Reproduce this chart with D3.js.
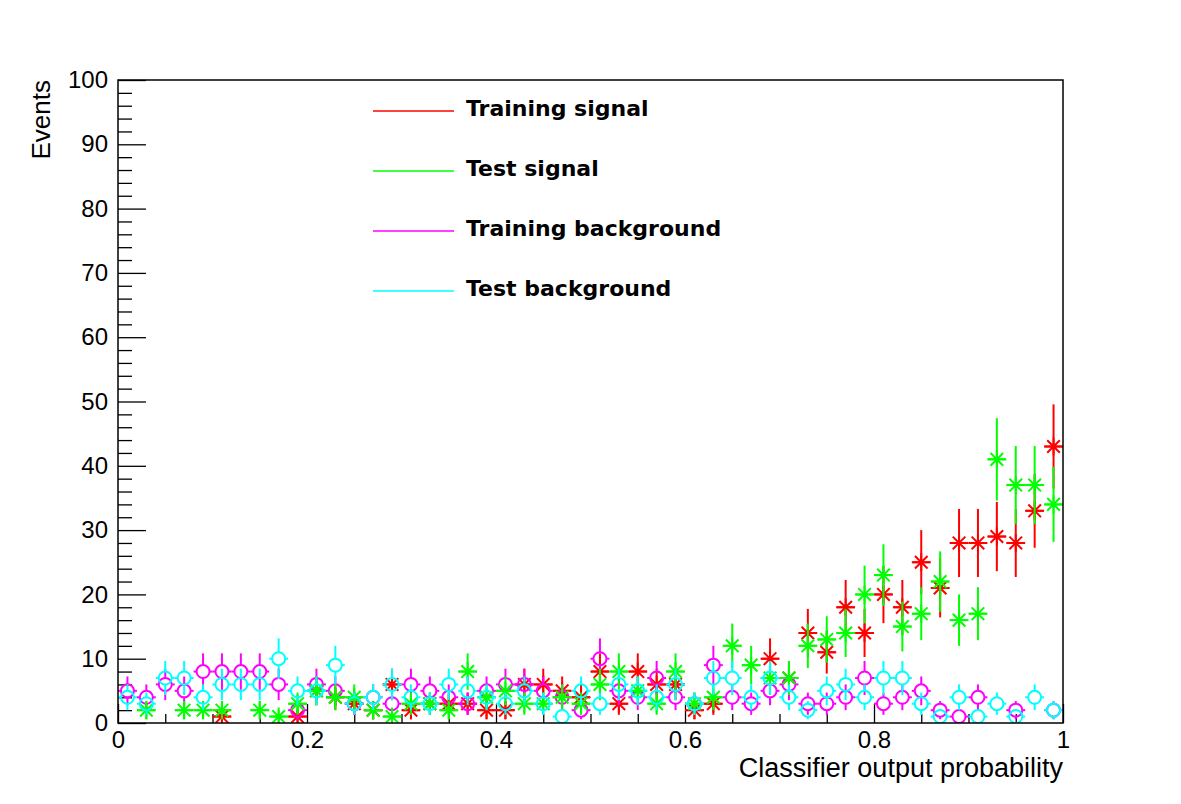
<!DOCTYPE html>
<html>
<head>
<meta charset="utf-8">
<script src="https://cdn.jsdelivr.net/npm/d3@7"></script>
<style>
  html, body { margin: 0; padding: 0; background: #fff; }
  svg { display: block; }
</style>
</head>
<body>
<svg id="chart" width="1181" height="804"></svg>
<script>
// ---- Data ----
const binCenters = [0.01,0.03,0.05,0.07,0.09,0.11,0.13,0.15,0.17,0.19,
                    0.21,0.23,0.25,0.27,0.29,0.31,0.33,0.35,0.37,0.39,
                    0.41,0.43,0.45,0.47,0.49,0.51,0.53,0.55,0.57,0.59,
                    0.61,0.63,0.65,0.67,0.69,0.71,0.73,0.75,0.77,0.79,
                    0.81,0.83,0.85,0.87,0.89,0.91,0.93,0.95,0.97,0.99];
const binWidth = 0.02;

const trainingSignal = [0,0,0,0,0,1,0,0,0,1, 5,4,3,2,6,2,3,3,3,2, 2,6,6,5,4,8,3,8,6,6,
                        2,3,0,0,10,7,14,11,18,14, 20,18,25,21,28,28,29,28,33,43];
const testSignal     = [0,2,0,2,2,2,0,2,1,3, 5,4,4,2,1,3,3,2,8,4, 5,3,3,4,3,6,8,5,3,8,
                        3,4,12,9,7,7,12,13,14,20, 23,15,17,22,16,17,41,37,37,34];
const trainingBkg    = [5,4,6,5,8,8,8,8,6,2, 6,5,3,4,3,6,5,4,3,5, 6,6,5,4,2,10,5,4,7,4,
                        3,9,4,3,5,6,3,3,4,7, 3,4,5,2,1,4,0,2,0,2];
const testBkg        = [4,3,7,7,4,6,6,6,10,5, 5,9,3,4,6,4,3,6,5,4, 3,5,3,1,5,3,6,5,4,6,
                        3,7,7,4,7,4,2,5,6,4, 7,7,3,1,4,1,3,1,4,2];

const xTicks = [0, 0.2, 0.4, 0.6, 0.8, 1];
const xMinorTicks = [0.05,0.1,0.15,0.25,0.3,0.35,0.45,0.5,0.55,0.65,0.7,0.75,0.85,0.9,0.95];
const yTicks = [0,10,20,30,40,50,60,70,80,90,100];
const yMinorTicks = [2,4,6,8,12,14,16,18,22,24,26,28,32,34,36,38,42,44,46,48,52,54,56,58,
                     62,64,66,68,72,74,76,78,82,84,86,88,92,94,96,98];

const seriesNames = ["Training signal", "Test signal", "Training background", "Test background"];
const seriesColors = ["#ff0000", "#00ff00", "#ff00ff", "#00ffff"];
const seriesMarkers = ["star", "star", "circle", "circle"];
const seriesValues = [trainingSignal, testSignal, trainingBkg, testBkg];

// ---- Layout ----
const svg = d3.select("#chart");
const pL = 118, pR = 1063, pT = 80, pB = 723;
const x = d3.scaleLinear().domain([0, 1]).range([pL, pR]);
const y = d3.scaleLinear().domain([0, 100]).range([pB, pT]);

const axisFont = "'Liberation Sans', Arial, Helvetica, sans-serif";

svg.append("defs").append("clipPath").attr("id", "clip")
  .append("rect").attr("x", pL).attr("y", pT).attr("width", pR - pL).attr("height", pB - pT);

// ---- Axes ----
const gY = svg.append("g").attr("transform", `translate(${pL},0)`)
  .call(d3.axisLeft(y).tickValues(yTicks).tickSize(-28).tickPadding(10).tickFormat(d3.format("d")));
const gYm = svg.append("g").attr("transform", `translate(${pL},0)`)
  .call(d3.axisLeft(y).tickValues(yMinorTicks).tickSize(-14).tickFormat(""));
const gX = svg.append("g").attr("transform", `translate(0,${pB})`)
  .call(d3.axisBottom(x).tickValues(xTicks).tickSize(-19).tickPadding(8).tickFormat(d3.format("~g")));
const gXm = svg.append("g").attr("transform", `translate(0,${pB})`)
  .call(d3.axisBottom(x).tickValues(xMinorTicks).tickSize(-9).tickFormat(""));

[gY, gYm, gX, gXm].forEach(g => {
  g.select(".domain").remove();
  g.selectAll(".tick line").attr("stroke", "#000").attr("stroke-width", 1.3);
  g.selectAll(".tick text").attr("font-family", axisFont).attr("font-size", 24).attr("fill", "#000");
});

// ---- Series ----
const plot = svg.append("g").attr("clip-path", "url(#clip)");
const drawOrder = [0, 2, 1, 3];
const cr = 6.5;
drawOrder.forEach(si => {
  const vals = seriesValues[si];
  const color = seriesColors[si];
  const isCircle = seriesMarkers[si] === "circle";
  const gap = isCircle ? cr : 0;
  const pts = binCenters.map((c, i) => ({c, v: vals[i]})).filter(d => d.v > 0);
  const g = plot.append("g").attr("stroke", color).attr("fill", "none").attr("stroke-width", 2);
  const segs = [];
  pts.forEach(d => {
    const cx = x(d.c), cy = y(d.v), e = Math.sqrt(d.v);
    segs.push([cx, y(d.v + e), cx, cy - gap]);
    segs.push([cx, cy + gap, cx, Math.min(y(d.v - e), pB)]);
    segs.push([x(d.c - binWidth / 2), cy, cx - gap, cy]);
    segs.push([cx + gap, cy, x(d.c + binWidth / 2), cy]);
  });
  g.selectAll("line").data(segs.filter(s => Math.abs(s[0]-s[2]) + Math.abs(s[1]-s[3]) > 0.5)).join("line")
    .attr("x1", s => s[0]).attr("y1", s => s[1]).attr("x2", s => s[2]).attr("y2", s => s[3]);
  if (isCircle) {
    g.selectAll("circle").data(pts).join("circle")
      .attr("cx", d => x(d.c)).attr("cy", d => y(d.v)).attr("r", cr);
  } else {
    const r = 9, dd = 6.3;
    const star = `M${-r},0L${r},0M0,${-r}L0,${r}M${-dd},${-dd}L${dd},${dd}M${-dd},${dd}L${dd},${-dd}`;
    g.selectAll("path").data(pts).join("path")
      .attr("transform", d => `translate(${x(d.c)},${y(d.v)})`).attr("d", star);
  }
});

// ---- Frame ----
svg.append("rect").attr("x", pL).attr("y", pT).attr("width", pR - pL).attr("height", pB - pT)
  .attr("fill", "none").attr("stroke", "#000").attr("stroke-width", 1.5);

// ---- Axis titles ----
svg.append("text").attr("x", pR).attr("y", 777).attr("text-anchor", "end")
  .attr("font-family", axisFont).attr("font-size", 27).attr("fill", "#000")
  .text("Classifier output probability");
svg.append("text").attr("transform", `translate(50,${pT}) rotate(-90)`).attr("text-anchor", "end")
  .attr("font-family", axisFont).attr("font-size", 26).attr("fill", "#000")
  .text("Events");

// ---- Legend ----
const legY = [111, 171, 231, 291];
const leg = svg.append("g");
seriesNames.forEach((name, i) => {
  leg.append("line").attr("x1", 373).attr("x2", 454).attr("y1", legY[i]).attr("y2", legY[i])
    .attr("stroke", seriesColors[i]).attr("stroke-width", 2).attr("stroke-opacity", 0.75);
  leg.append("text").attr("x", 466).attr("y", legY[i] + 4.5)
    .attr("font-family", "'DejaVu Sans', Verdana, sans-serif").attr("font-weight", "bold")
    .attr("font-size", 22).attr("fill", "#000").text(name);
});
</script>
</body>
</html>
